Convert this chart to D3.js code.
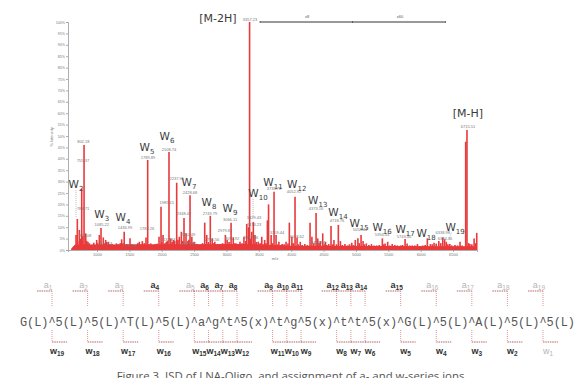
<!DOCTYPE html>
<html><head><meta charset="utf-8">
<script src="https://cdn.jsdelivr.net/npm/d3@7"></script>
<style>body{margin:0;background:#fff;} svg{display:block;}</style>
</head><body><svg id="c" width="579" height="378"></svg>
<script>
// ---- spectrum data: [m/z, % intensity]
const peakList = [[676,6.6],[696,13.6],[727,8.8],[764,27],[800,46],[826,7.3],[860,3.6],[920,2],[995,4.4],[1036,6.6],[1062,9.6],[1097,5.5],[1134,4.4],[1175,3.6],[1230,2.6],[1300,2.9],[1381,4.7],[1420,8],[1460,2.6],[1510,5.1],[1570,2],[1654,3.6],[1700,3.9],[1757,5.5],[1783,39.5],[1830,2.9],[1900,2.6],[1958,5.8],[1989,19],[2020,6.6],[2070,3.6],[2112,43],[2138,5.1],[2180,4.4],[2231,29.5],[2272,5.8],[2303,8],[2344,14],[2375,7.3],[2405,3.9],[2437,24],[2465,5.8],[2500,3.6],[2545,2.6],[2600,2],[2664,12],[2695,6.6],[2750,15],[2780,5.1],[2820,3.6],[2900,2.6],[2983,6.6],[3010,4.4],[3071,12],[3105,5.5],[3150,2.9],[3209,3.6],[3270,5.8],[3313,11.4],[3340,10],[3357,100],[3390,8],[3415,12.3],[3440,6.6],[3490,3.6],[3545,5.8],[3590,4.4],[3632,13],[3650,20],[3690,6.6],[3735,25.6],[3766,6.6],[3810,3.6],[3860,2.6],[3920,3.6],[3971,12],[4010,5.8],[4059,23.4],[4090,5.5],[4140,3.6],[4210,2.6],[4291,12],[4320,5.8],[4384,16.2],[4410,5.1],[4450,3.9],[4487,7.3],[4530,3.6],[4580,2.6],[4615,10.5],[4660,4.4],[4728,11],[4760,3.9],[4830,2.6],[4935,3.2],[4990,4.4],[5030,5.1],[5079,6.6],[5110,3.9],[5160,2.9],[5240,2.6],[5320,2],[5408,5.1],[5450,2.9],[5490,3.6],[5560,2.6],[5640,2],[5759,4.8],[5790,2.9],[5870,2],[5950,2.6],[6030,2],[6103,5.1],[6150,2.6],[6207,3.2],[6280,3.9],[6341,5.5],[6370,4.7],[6395,3.6],[6450,2.6],[6608,3.6],[6695,47.5],[6715,52.6],[6760,2.6],[6825,5],[6866,7.5]];
const noiseList = [[640,1.5],[700,4],[740,5],[780,6],[840,4],[880,3],[950,3.2],[1010,3],[1110,3],[1150,3.5],[1200,2.5],[1260,2],[1330,2.5],[1360,3],[1400,3],[1480,2.2],[1540,2.5],[1600,2.2],[1630,3],[1680,2.5],[1730,3],[1810,2.5],[1860,2.2],[1930,2.8],[2000,3.5],[2050,3],[2090,4],[2160,3.5],[2200,4],[2250,4.5],[2320,4],[2420,4.5],[2480,3],[2520,2.5],[2570,2.2],[2630,3],[2720,3.5],[2800,3],[2860,2.5],[2940,3],[3040,3.5],[3130,3],[3180,2.5],[3240,3],[3300,4],[3370,5],[3460,3.5],[3520,3],[3570,2.5],[3610,3],[3710,3],[3790,2.5],[3840,2.2],[3890,2.5],[3950,2.8],[4030,3],[4110,2.5],[4170,2.2],[4250,2.2],[4350,3],[4430,3],[4510,2.5],[4550,2.2],[4640,2.5],[4700,2.5],[4790,2.2],[4870,2],[4900,2.5],[4960,2.2],[5050,3],[5130,2.5],[5200,2.2],[5280,2],[5360,2.2],[5430,2.5],[5520,2],[5600,2.2],[5690,2],[5720,2.2],[5830,2],[5910,2],[5990,1.8],[6070,2.2],[6180,2.5],[6240,2.8],[6310,3],[6420,2.5],[6480,2],[6530,2.2],[6570,2],[6640,2],[6740,3],[6790,2.5],[6850,3]];
const baselineList = [[600,0.6],[660,2.4],[3400,2.6],[4000,1.9],[6870,1.6]];

// peak annotations: [text, m/z, % position]
const peakLabels = [["802.18",788,46.8],["755.37",784,38.5],["788.71",784,17.7],["819.08",815,5.9],["1085.22",1073,10.7],["1124.53",1124,2.4],["1436.99",1433,9.4],["1515.98",1510,1.5],["1789.89",1788,40.1],["1782.26",1772,8.9],["1985.15",2077,20.2],["2108.74",2112,43.6],["2132.84",2097,4.1],["2237.95",2231,30.9],["2348.47",2344,15.5],["2428.68",2437,24.7],["2450.49",2406,6.3],["2487.64",2421,2.4],["2749.79",2746,15.5],["2754.56",2777,4.1],["2979.87",2978,8.1],["3066.11",3055,12.9],["3092.92",3086,4.6],["3357.23",3364,100.6],["3429.43",3425,13.5],["3413.23",3425,10.7],["3378.86",3379,5.0],["3735.78",3735,26.5],["3759.44",3781,6.8],["4052.92",4044,25.2],["4078.62",4085,5.1],["4373.16",4384,17.7],["4406.84",4414,2.8],["4718.76",4708,12.5],["5058.44",5063,8.5],["5394.43",5403,6.3],["5743.46",5743,5.4],["6338.98",6341,7.2],["6384.36",6377,4.3],["6715.51",6732,53.7]];
// w-ion annotations: [index, m/z, % position]
const wIons = [[2,676,28.9],[3,1073,15.8],[4,1402,14.5],[5,1772,45.2],[6,2082,50],[7,2421,29.8],[8,2730,21],[9,3055,18.4],[10,3487,25],[11,3719,29.8],[12,4085,28.9],[13,4410,21.9],[14,4723,16.7],[15,5048,12],[16,5403,10.2],[17,5759,9.2],[18,6083,7.6],[19,6531,10.2]];
const leaders = [[676,26.3,676,14.5],[3411,22.4,3411,14.0],[6475,7.6,6433,4.4]];
const parentIons = [["[M-2H]",3357],["[M-H]",6715]];
const bracket = {from:3518, mid:4947, to:6384, labels:[["x8",4244],["x60",5681]]};

const yTicks = d3.range(0,101,5);
const xTicks = d3.range(1000,6501,500);

// ---- sequence data
const residues = ["G(L)","5(L)","5(L)","T(L)","5(L)","a","g","t","5(x)","t","g","5(x)","t","t","5(x)","G(L)","5(L)","A(L)","5(L)","5(L)"];
const aDark = [4,6,7,8,9,10,11,12,13,14,15];
const wLight = [1];
const caption = "Figure 3.  ISD of LNA-Oligo, and assignment of a- and w-series ions.";

const svg = d3.select("#c");
const red = "#e8393b";
const x = d3.scaleLinear().domain([552,6870]).range([68,477]);
const y = d3.scaleLinear().domain([0,100]).range([250,22]);
const font = "Liberation Sans, Arial, sans-serif";

// baseline area
svg.append("path").datum(baselineList)
  .attr("d", d3.area().x(d=>x(d[0])).y0(y(0)).y1(d=>y(d[1])))
  .attr("fill", red);
// noise sticks
svg.append("g").selectAll("line").data(noiseList).join("line")
  .attr("x1",d=>x(d[0])).attr("x2",d=>x(d[0])).attr("y1",y(0)).attr("y2",d=>y(d[1]))
  .attr("stroke",red).attr("stroke-width",1.7);
// peaks
svg.append("g").selectAll("line").data(peakList).join("line")
  .attr("x1",d=>x(d[0])).attr("x2",d=>x(d[0])).attr("y1",y(0)).attr("y2",d=>y(d[1]))
  .attr("stroke",red).attr("stroke-width",1.6);

// axes
const ya = svg.append("g").attr("transform","translate(68,0)")
  .call(d3.axisLeft(y).tickValues(yTicks).tickSize(2).tickPadding(1).tickFormat(d=>d+"%"));
ya.selectAll("text").attr("font-size",3.6).attr("fill","#777").attr("font-family",font);
ya.selectAll("line,path").attr("stroke","#999").attr("stroke-width",0.8);
const xa = svg.append("g").attr("transform","translate(0,250)")
  .call(d3.axisBottom(x).tickValues(xTicks).tickSize(2).tickPadding(1).tickFormat(d3.format("d")));
xa.selectAll("text").attr("font-size",4).attr("fill","#777").attr("font-family",font);
xa.selectAll("line,path").attr("stroke","#999").attr("stroke-width",0.8);
svg.append("text").attr("x",275).attr("y",260).attr("text-anchor","middle")
  .attr("font-size",4).attr("fill","#777").attr("font-family",font).text("m/z");
svg.append("text").attr("transform","translate(53,137) rotate(-90)").attr("text-anchor","middle")
  .attr("font-size",4).attr("fill","#777").attr("font-family",font).text("% Intensity");

// peak labels
svg.append("g").selectAll("text").data(peakLabels).join("text")
  .attr("x",d=>x(d[1])).attr("y",d=>y(d[2])).attr("text-anchor","middle")
  .attr("font-size",4).attr("fill","#777").attr("font-family",font).text(d=>d[0]);

// leaders
svg.append("g").selectAll("line").data(leaders).join("line")
  .attr("x1",d=>x(d[0])).attr("y1",d=>y(d[1])).attr("x2",d=>x(d[2])).attr("y2",d=>y(d[3]))
  .attr("stroke","#aaa").attr("stroke-width",0.8).attr("stroke-dasharray","1,1");

// W labels
const wl = svg.append("g").selectAll("text").data(wIons).join("text")
  .attr("x",d=>x(d[1])).attr("y",d=>y(d[2])+4).attr("text-anchor","middle")
  .attr("fill","#3a3a3a").attr("font-family","DejaVu Sans, sans-serif");
wl.append("tspan").attr("font-size",10.5).text("W");
wl.append("tspan").attr("font-size",7).attr("dy",3).text(d=>d[0]);

// parent ion labels
svg.append("text").attr("x",x(parentIons[0][1])-13).attr("y",22).attr("text-anchor","end")
  .attr("font-size",11).attr("fill","#3a3a3a").attr("font-family","DejaVu Sans, sans-serif").text(parentIons[0][0]);
svg.append("text").attr("x",x(parentIons[1][1])+1).attr("y",117).attr("text-anchor","middle")
  .attr("font-size",11).attr("fill","#3a3a3a").attr("font-family","DejaVu Sans, sans-serif").text(parentIons[1][0]);

// bracket
const bg = svg.append("g").attr("stroke","#333").attr("stroke-width",1);
bg.append("line").attr("x1",x(bracket.from)).attr("x2",x(bracket.to)).attr("y1",y(100)).attr("y2",y(100));
[bracket.from,bracket.mid,bracket.to].forEach(v=>bg.append("line").attr("x1",x(v)).attr("x2",x(v)).attr("y1",y(100)-1).attr("y2",y(100)+1).attr("stroke-width",0.6));
svg.append("g").selectAll("text").data(bracket.labels).join("text")
  .attr("x",d=>x(d[1])).attr("y",y(101.8)).attr("text-anchor","middle")
  .attr("font-size",4).attr("fill","#555").attr("font-family",font).text(d=>d[0]);

// ---- sequence
const seq = residues.join("^");
const sx0 = 20, sw = 555, sy = 326;
svg.append("text").attr("x",sx0).attr("y",sy).attr("font-family","Liberation Mono, monospace")
  .attr("font-size",11.9).attr("fill","#555").attr("textLength",sw).attr("lengthAdjust","spacing").text(seq);
const cw = sw/seq.length;
const cuts = [];
let idx = 0;
residues.forEach((r,i)=>{ idx += r.length; if(i<residues.length-1){ cuts.push(sx0+(idx+0.5)*cw); idx += 1; } });
const sg = svg.append("g");
cuts.forEach((cx,i)=>{
  const n = i+1, w = residues.length - n;
  const aD = aDark.includes(n), wD = !wLight.includes(w);
  sg.append("line").attr("x1",cx-15).attr("x2",cx).attr("y1",291).attr("y2",291)
    .attr("stroke","#a55").attr("stroke-width",0.9).attr("stroke-dasharray","1.5,0.8");
  sg.append("line").attr("x1",cx).attr("x2",cx).attr("y1",291).attr("y2",306)
    .attr("stroke","#d88").attr("stroke-width",0.9).attr("stroke-dasharray","1,1");
  const at = sg.append("text").attr("x",cx-4).attr("y",288).attr("text-anchor","middle")
    .attr("font-family",font).attr("fill",aD?"#333":"#b5b5b5").attr("font-weight",aD?"bold":"normal");
  at.append("tspan").attr("font-size",9).text("a");
  at.append("tspan").attr("font-size",6.5).attr("dy",2).text(n);
  sg.append("line").attr("x1",cx).attr("x2",cx).attr("y1",330).attr("y2",342)
    .attr("stroke","#d88").attr("stroke-width",0.9).attr("stroke-dasharray","1,1");
  sg.append("line").attr("x1",cx).attr("x2",cx+15).attr("y1",342).attr("y2",342)
    .attr("stroke","#a55").attr("stroke-width",0.9).attr("stroke-dasharray","1.5,0.8");
  const wt = sg.append("text").attr("x",cx+5).attr("y",354).attr("text-anchor","middle")
    .attr("font-family",font).attr("fill",wD?"#333":"#b5b5b5").attr("font-weight",wD?"bold":"normal");
  wt.append("tspan").attr("font-size",9).text("w");
  wt.append("tspan").attr("font-size",6.5).attr("dy",2).text(w);
});

svg.append("text").attr("x",292).attr("y",380).attr("text-anchor","middle")
  .attr("font-family","Open Sans, sans-serif").attr("font-size",11.4).attr("fill","#555").text(caption);
</script>
</body></html>
